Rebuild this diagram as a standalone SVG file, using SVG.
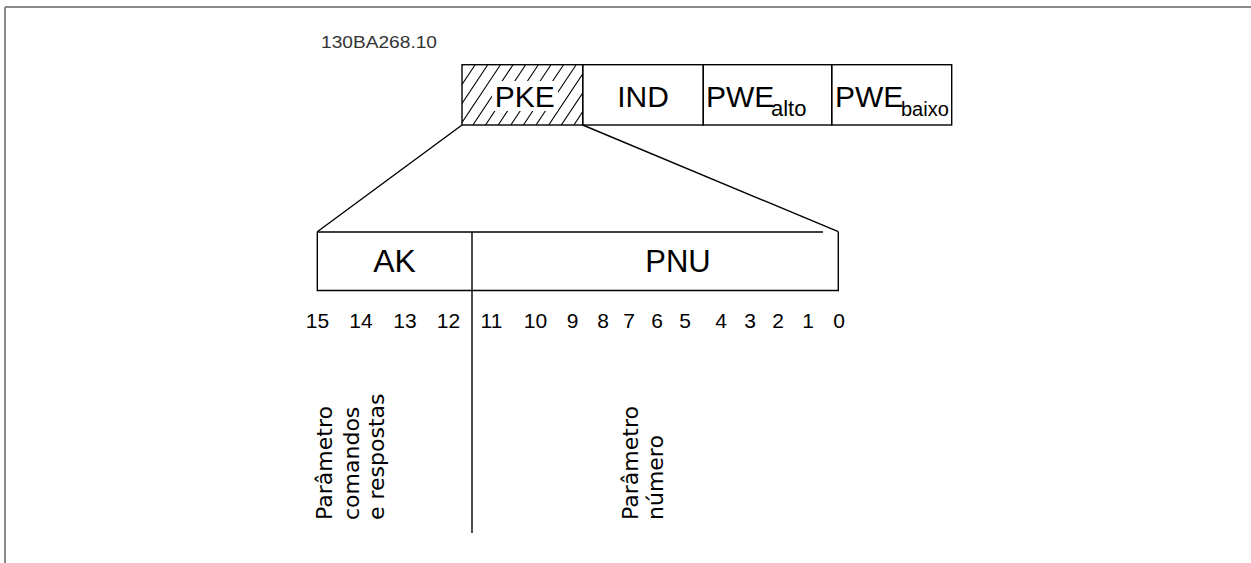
<svg xmlns="http://www.w3.org/2000/svg" width="1251" height="563" viewBox="0 0 1251 563">
<style>
.ln{stroke:#000;stroke-width:1.4;fill:none}
.hatch{stroke:#000;stroke-width:1.1;fill:none}
.frame{stroke:#8a8a8a;stroke-width:2;fill:none}
.lbl{font-family:"Liberation Sans",Arial,sans-serif;fill:#000}
.big{font-size:30px}
.sub{font-size:22px}
.bit{font-family:"Liberation Sans",Arial,sans-serif;font-size:21px;fill:#000;text-anchor:middle}
.rot{font-family:"DejaVu Sans",Verdana,sans-serif;font-size:22px;fill:#000}
</style>
<defs>
<clipPath id="pkeClip"><rect x="462" y="64.7" width="120.7" height="60.3"/></clipPath>
</defs>
<rect x="0" y="0" width="1251" height="563" fill="#fff"/>
<g id="frame">
<path class="frame" d="M5,7 H1251 M5,7 V563"/>
</g>
<g id="code">
<text x="321" y="48" font-family="Liberation Sans, Arial, sans-serif" font-size="16" fill="#333" textLength="116" lengthAdjust="spacingAndGlyphs">130BA268.10</text>
</g>
<g id="pke">
<g clip-path="url(#pkeClip)">
<path class="hatch" d="M422.4,125 L462.4,65 M435,125 L475,65 M447.6,125 L487.6,65 M460.3,125 L500.3,65 M472.9,125 L512.9,65 M485.5,125 L525.5,65 M498.2,125 L538.2,65 M510.8,125 L550.8,65 M523.4,125 L563.4,65 M536,125 L576,65 M548.7,125 L588.7,65 M561.3,125 L601.3,65 M573.9,125 L613.9,65 M586.6,125 L626.6,65"/>
</g>
<rect x="492" y="81" width="66" height="30" fill="#fff"/>
<rect class="ln" x="462" y="64.7" width="120.7" height="60.3"/>
<text class="lbl big" x="524.7" y="107" text-anchor="middle">PKE</text>
</g>
<g id="ind">
<rect class="ln" x="582.7" y="64.7" width="120.6" height="60.3"/>
<text class="lbl big" x="643" y="107" text-anchor="middle">IND</text>
</g>
<g id="pwe-alto">
<rect class="ln" x="703.3" y="64.7" width="128.4" height="60.3"/>
<text class="lbl big"><tspan x="706" y="107">PWE</tspan><tspan class="sub" x="771" y="116">alto</tspan></text>
</g>
<g id="pwe-baixo">
<rect class="ln" x="831.7" y="64.7" width="120" height="60.3"/>
<text class="lbl big"><tspan x="835" y="107">PWE</tspan><tspan font-size="20" x="901" y="116">baixo</tspan></text>
</g>
<g id="connectors">
<path class="ln" d="M462,125 L317.3,231.7 M582.7,125 L838.3,231.7"/>
<path class="ln" d="M472,232 V533"/>
</g>
<g id="pke-detail">
<path class="ln" d="M317.3,231.7 V290.5 H838.3 V231.7 M317.3,232 H823"/>
<text class="lbl" font-size="32" x="394.5" y="272" text-anchor="middle">AK</text>
<text class="lbl" font-size="31" x="678" y="272" text-anchor="middle">PNU</text>
</g>
<g id="bits">
<text class="bit" x="317.5" y="328">15</text>
<text class="bit" x="361" y="328">14</text>
<text class="bit" x="405" y="328">13</text>
<text class="bit" x="448.5" y="328">12</text>
<text class="bit" x="491.5" y="328">11</text>
<text class="bit" x="535.5" y="328">10</text>
<text class="bit" x="572.5" y="328">9</text>
<text class="bit" x="603" y="328">8</text>
<text class="bit" x="629" y="328">7</text>
<text class="bit" x="657" y="328">6</text>
<text class="bit" x="685" y="328">5</text>
<text class="bit" x="721" y="328">4</text>
<text class="bit" x="750" y="328">3</text>
<text class="bit" x="778" y="328">2</text>
<text class="bit" x="808" y="328">1</text>
<text class="bit" x="839" y="328">0</text>
</g>
<g id="label-ak">
<text class="rot" transform="translate(332,520) rotate(-90)"><tspan x="0" y="0">Parâmetro</tspan><tspan x="0" y="27">comandos</tspan><tspan x="0" y="52">e respostas</tspan></text>
</g>
<g id="label-pnu">
<text class="rot" transform="translate(638,520) rotate(-90)"><tspan x="0" y="0">Parâmetro</tspan><tspan x="0" y="25">número</tspan></text>
</g>
</svg>
